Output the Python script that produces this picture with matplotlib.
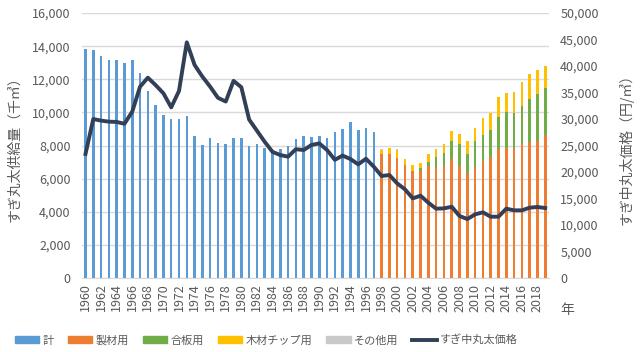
import matplotlib
matplotlib.use("Agg")
import matplotlib.pyplot as plt
import matplotlib.patches as mpatches
from matplotlib.lines import Line2D
from matplotlib.ticker import FuncFormatter
import numpy as np

plt.rcParams['font.family'] = ['Noto Sans CJK JP', 'DejaVu Sans']

# data
years_total = list(range(1960, 1998))
total = [13810, 13770, 13420, 13160, 13160, 12980, 13160, 12380, 11290, 10450,
         9860, 9580, 9600, 9780, 8560, 8030, 8430, 8150, 8070, 8470,
         8430, 7950, 8070, 7850, 7730, 7810, 7970, 8370, 8560, 8500,
         8590, 8430, 8830, 9000, 9440, 8960, 9080, 8800]

years_split = list(range(1998, 2020))
sawmill = [7460, 7470, 7270, 6820, 6460, 6480, 6780, 6720, 6780, 7170,
           6760, 6320, 6680, 7080, 7290, 7810, 7870, 7870, 8070, 8210,
           8270, 8620]
plywood = [0, 0, 0, 0, 0, 170, 250, 570, 770, 1100,
           1310, 1190, 1590, 1560, 1630, 1910, 2140, 2080, 2340, 2580,
           2840, 2870]
chip = [280, 350, 470, 370, 360, 310, 460, 480, 520, 610,
        640, 760, 770, 1000, 1060, 1190, 1160, 1280, 1430, 1510,
        1450, 1310]
other = [30, 40, 30, 0, 0, 0, 0, 0, 0, 0,
         0, 0, 0, 0, 0, 0, 0, 0, 0, 0,
         0, 0]

years_price = list(range(1960, 2020))
price = [23400, 30000, 29700, 29500, 29450, 29100, 31400, 36100, 37800, 36400,
         34850, 32200, 35300, 44470, 40200, 38000, 36100, 34000, 33300, 37200,
         36000, 29900, 27800, 25700, 23800, 23200, 22900, 24300, 24150, 25100,
         25400, 24150, 22300, 23100, 22450, 21450, 22500, 21000, 19250, 19430,
         17860, 16730, 15030, 15530, 14210, 13080, 13140, 13450, 11700, 11130,
         12010, 12390, 11570, 11570, 13080, 12770, 12770, 13270, 13400, 13210]

C_BLUE = '#5B9BD5'
C_ORANGE = '#ED7D31'
C_GREEN = '#70AD47'
C_YELLOW = '#FFC000'
C_GRAY = '#C9C9C9'
C_LINE = '#323F57'
C_TEXT = '#595959'
C_GRID = '#D9D9D9'

fig = plt.figure(figsize=(6.4, 3.52), dpi=100)
ax = fig.add_axes([0.1275, 0.2102, 0.7305, 0.7528])
ax2 = ax.twinx()

w = 0.33
ax.bar(years_total, total, width=w, color=C_BLUE, zorder=2)
sawmill = np.array(sawmill)
plywood = np.array(plywood)
chip = np.array(chip)
other = np.array(other)
ax.bar(years_split, sawmill, width=w, color=C_ORANGE, zorder=2)
ax.bar(years_split, plywood, bottom=sawmill, width=w, color=C_GREEN, zorder=2)
ax.bar(years_split, chip, bottom=sawmill + plywood, width=w, color=C_YELLOW, zorder=2)
ax.bar(years_split, other, bottom=sawmill + plywood + chip, width=w, color=C_GRAY, zorder=2)

ax2.plot(years_price, price, color=C_LINE, lw=2.8, solid_joinstyle='round', zorder=3)

ax.set_xlim(1959.5, 2019.5)
ax.set_ylim(0, 16000)
ax2.set_ylim(0, 50000)
ax.set_yticks(range(0, 16001, 2000))
ax2.set_yticks(range(0, 50001, 5000))
comma = FuncFormatter(lambda v, p: f"{int(v):,}")
ax.yaxis.set_major_formatter(comma)
ax2.yaxis.set_major_formatter(comma)
ax.set_xticks(range(1960, 2019, 2))
ax.set_xticklabels([str(y) for y in range(1960, 2019, 2)], rotation=90)

ax.grid(axis='y', color=C_GRID, lw=1, zorder=0)
ax.set_axisbelow(True)
for a in (ax, ax2):
    for s in a.spines.values():
        s.set_visible(False)
    a.tick_params(length=0, labelsize=9, colors=C_TEXT)
ax.spines['bottom'].set_visible(True)
ax.spines['bottom'].set_color(C_GRID)
ax.tick_params(axis='y', pad=8)
ax.tick_params(axis='x', pad=4)
ax2.tick_params(axis='y', pad=8)

ax.set_ylabel("すぎ丸太供給量（千㎥）", fontsize=10, color=C_TEXT, labelpad=8)
ax2.set_ylabel("すぎ中丸太価格（円/㎥）", fontsize=10, color=C_TEXT, labelpad=14)
fig.text(560 / 640, 1 - 310 / 352, "年", fontsize=10, color=C_TEXT, ha='left', va='center')

handles = [
    mpatches.Patch(color=C_BLUE, label="計"),
    mpatches.Patch(color=C_ORANGE, label="製材用"),
    mpatches.Patch(color=C_GREEN, label="合板用"),
    mpatches.Patch(color=C_YELLOW, label="木材チップ用"),
    mpatches.Patch(color=C_GRAY, label="その他用"),
    Line2D([], [], color=C_LINE, lw=2.8, label="すぎ中丸太価格"),
]
leg = fig.legend(handles=handles, loc='center left', bbox_to_anchor=(15 / 640, 1 - 340 / 352),
                 ncol=6, frameon=False, fontsize=8, handlelength=2.2, handleheight=0.6,
                 handletextpad=0.3, columnspacing=1.25, borderpad=0, borderaxespad=0)
for t in leg.get_texts():
    t.set_color(C_TEXT)

fig.savefig("out.png", dpi=100)
